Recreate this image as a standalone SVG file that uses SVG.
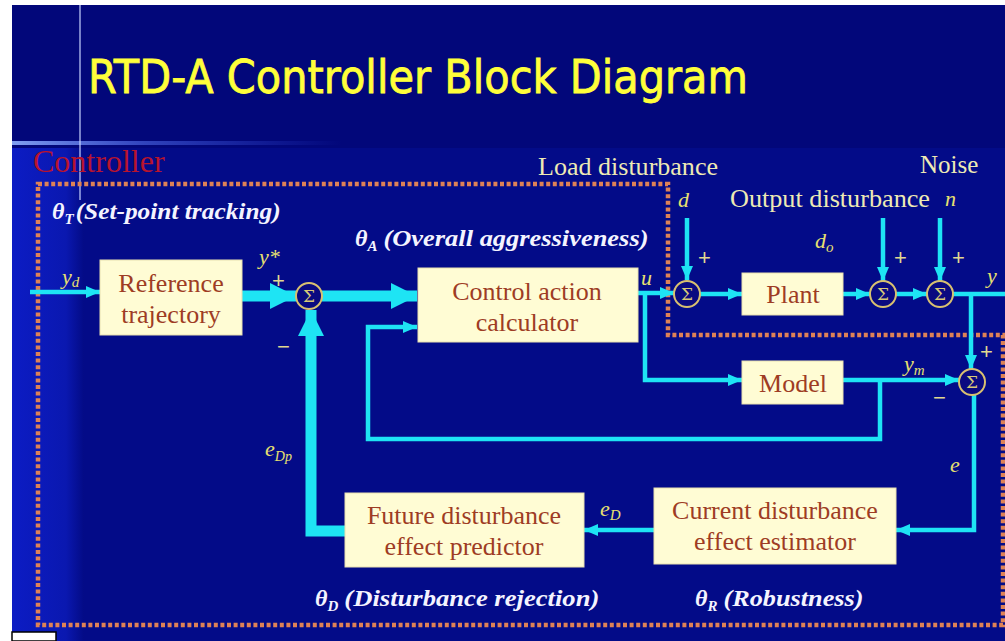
<svg xmlns="http://www.w3.org/2000/svg" width="1005" height="641" viewBox="0 0 1005 641">
<defs>
<style>
.box{fill:#fffcd4;stroke:#e8e0b0;stroke-width:1}
.bt{font-family:"Liberation Serif",serif;font-size:26px;fill:#9e3c24;text-anchor:middle}
.ln{fill:none;stroke:#1ee4f4;stroke-width:4.5}
.tk{fill:none;stroke:#1ee4f4;stroke-width:11}
.sum{fill:#0a0a80;stroke:#d8c070;stroke-width:2}
.sg{font-family:"DejaVu Serif",serif;font-size:17px;fill:#d8c878;text-anchor:middle}
.th{font-family:"Liberation Serif",serif;font-weight:bold;font-style:italic;font-size:24px;fill:#f4f4ff}
.cr{font-family:"Liberation Serif",serif;font-size:25px;fill:#eeeab4}
.sl{font-family:"Liberation Serif",serif;font-style:italic;font-size:22px;fill:#e8e070}
.pm{font-family:"Liberation Sans",sans-serif;font-size:22px;fill:#e0d890}
.dot{fill:none;stroke:#de8256;stroke-width:4.5;stroke-dasharray:4 2.6}
</style>
<marker id="ah" markerUnits="userSpaceOnUse" viewBox="0 0 14 12" refX="14" refY="6" markerWidth="14" markerHeight="12" orient="auto"><path d="M0,0 L14,6 L0,12 z" fill="#1ee4f4"/></marker>
<marker id="ahb" markerUnits="userSpaceOnUse" viewBox="0 0 26 26" refX="26" refY="13" markerWidth="26" markerHeight="26" orient="auto"><path d="M0,0 L26,13 L0,26 z" fill="#1ee4f4"/></marker>
<linearGradient id="lg" x1="0" x2="1" y1="0" y2="0"><stop offset="0" stop-color="#0c1cc4"/><stop offset="0.75" stop-color="#0a18b0"/><stop offset="1" stop-color="#030b86"/></linearGradient>
<linearGradient id="hl" x1="0" x2="1" y1="0" y2="0"><stop offset="0" stop-color="#8fb0ff" stop-opacity="0.9"/><stop offset="0.4" stop-color="#6080ff" stop-opacity="0.5"/><stop offset="1" stop-color="#4060ff" stop-opacity="0"/></linearGradient>
</defs>
<rect x="0" y="0" width="1005" height="641" fill="#ffffff"/>
<rect x="12" y="5" width="993" height="636" fill="#02077a"/>
<rect x="12" y="148" width="993" height="493" fill="#030b88"/>
<rect x="12" y="148" width="72" height="493" fill="url(#lg)"/>
<rect x="12" y="141" width="330" height="4" fill="url(#hl)"/>
<line x1="80" y1="5" x2="80" y2="200" stroke="#c8d4ff" stroke-width="1.5" opacity="0.8"/>
<rect x="12" y="632" width="44" height="9" fill="#ffffff" stroke="#000000" stroke-width="1.5"/>

<text x="88" y="93" font-family="'DejaVu Sans','Liberation Sans',sans-serif" font-size="46" fill="#ffff3a" stroke="#ffff3a" stroke-width="0.8" textLength="660" lengthAdjust="spacingAndGlyphs">RTD-A Controller Block Diagram</text>
<text x="33" y="172" font-family="'Liberation Serif',serif" font-size="32" fill="#b8142e">Controller</text>

<path class="dot" d="M38,184 H668 V335 H1003 V625 H38 Z"/>

<g id="connectors">
<path class="ln" d="M30,292 H100" marker-end="url(#ah)"/>
<path class="tk" d="M242,296 H296" marker-end="url(#ahb)"/>
<path class="tk" d="M322,296 H417" marker-end="url(#ahb)"/>
<path class="tk" d="M345,531 H311 V310" marker-end="url(#ahb)"/>
<path class="ln" d="M880,380 V439 H368 V327 H417" marker-end="url(#ah)"/>
<path class="ln" d="M638,293 H674" marker-end="url(#ah)"/>
<path class="ln" d="M645,293 V380 H742" marker-end="url(#ah)"/>
<path class="ln" d="M687,218 V280" marker-end="url(#ah)"/>
<path class="ln" d="M700,294 H742" marker-end="url(#ah)"/>
<path class="ln" d="M843,294 H870" marker-end="url(#ah)"/>
<path class="ln" d="M883,218 V281" marker-end="url(#ah)"/>
<path class="ln" d="M896,294 H927" marker-end="url(#ah)"/>
<path class="ln" d="M940,218 V281" marker-end="url(#ah)"/>
<path class="ln" d="M953,294 H1005"/>
<path class="ln" d="M971,294 V369" marker-end="url(#ah)"/>
<path class="ln" d="M843,380 H959" marker-end="url(#ah)"/>
<path class="ln" d="M974,395 V530 H896" marker-end="url(#ah)"/>
<path class="ln" d="M654,530 H584" marker-end="url(#ah)"/>
</g>

<g id="sum1"><circle class="sum" cx="309" cy="296" r="13"/><text class="sg" x="309" y="302">Σ</text></g>
<g id="sum2"><circle class="sum" cx="687" cy="294" r="13"/><text class="sg" x="687" y="300">Σ</text></g>
<g id="sum3"><circle class="sum" cx="883" cy="294" r="13"/><text class="sg" x="883" y="300">Σ</text></g>
<g id="sum4"><circle class="sum" cx="940" cy="294" r="13"/><text class="sg" x="940" y="300">Σ</text></g>
<g id="sum5"><circle class="sum" cx="972" cy="382" r="13"/><text class="sg" x="972" y="388">Σ</text></g>

<g id="reference"><rect class="box" x="100" y="260" width="142" height="75"/><text class="bt" x="171" y="292">Reference</text><text class="bt" x="171" y="323">trajectory</text></g>
<g id="control"><rect class="box" x="418" y="268" width="220" height="74"/><text class="bt" x="527" y="300">Control action</text><text class="bt" x="527" y="331">calculator</text></g>
<g id="plant"><rect class="box" x="742" y="273" width="101" height="42"/><text class="bt" x="793" y="303">Plant</text></g>
<g id="model"><rect class="box" x="742" y="361" width="101" height="43"/><text class="bt" x="793" y="392">Model</text></g>
<g id="future"><rect class="box" x="345" y="493" width="239" height="74"/><text class="bt" x="464" y="524">Future disturbance</text><text class="bt" x="464" y="555">effect predictor</text></g>
<g id="current"><rect class="box" x="654" y="488" width="242" height="76"/><text class="bt" x="775" y="519">Current disturbance</text><text class="bt" x="775" y="550">effect estimator</text></g>

<g id="labels">
<text class="th" x="52" y="219">θ<tspan font-size="15" dy="5">T</tspan><tspan dy="-5" dx="2" textLength="205" lengthAdjust="spacingAndGlyphs">(Set-point tracking)</tspan></text>
<text class="th" x="355" y="246">θ<tspan font-size="15" dy="5">A</tspan><tspan dy="-5" dx="6" textLength="265" lengthAdjust="spacingAndGlyphs">(Overall aggressiveness)</tspan></text>
<text class="th" x="315" y="606">θ<tspan font-size="15" dy="5">D</tspan><tspan dy="-5" dx="6" textLength="255" lengthAdjust="spacingAndGlyphs">(Disturbance rejection)</tspan></text>
<text class="th" x="695" y="606">θ<tspan font-size="15" dy="5">R</tspan><tspan dy="-5" dx="6" textLength="140" lengthAdjust="spacingAndGlyphs">(Robustness)</tspan></text>
<text class="cr" x="538" y="175" textLength="180" lengthAdjust="spacingAndGlyphs">Load disturbance</text>
<text class="cr" x="920" y="173">Noise</text>
<text class="cr" x="730" y="207" textLength="200" lengthAdjust="spacingAndGlyphs">Output disturbance</text>
<text class="sl" x="678" y="207">d</text>
<text class="sl" x="945" y="206">n</text>
<text class="sl" x="815" y="248">d<tspan font-size="15" dy="4">o</tspan></text>
<text class="sl" x="62" y="284">y<tspan font-size="15" dy="3">d</tspan></text>
<text class="sl" x="259" y="264">y*</text>
<text class="sl" x="641" y="285" font-size="20">u</text>
<text class="sl" x="987" y="283" font-size="26">y</text>
<text class="sl" x="904" y="371">y<tspan font-size="15" dy="4">m</tspan></text>
<text class="sl" x="950" y="472">e</text>
<text class="sl" x="600" y="516">e<tspan font-size="15" dy="4">D</tspan></text>
<text class="sl" x="265" y="456">e<tspan font-size="14" dy="5">Dp</tspan></text>
<text class="pm" x="272" y="288">+</text>
<text class="pm" x="277" y="354">−</text>
<text class="pm" x="698" y="265">+</text>
<text class="pm" x="894" y="265">+</text>
<text class="pm" x="952" y="265">+</text>
<text class="pm" x="980" y="359">+</text>
<text class="pm" x="933" y="405">−</text>
</g>
</svg>
